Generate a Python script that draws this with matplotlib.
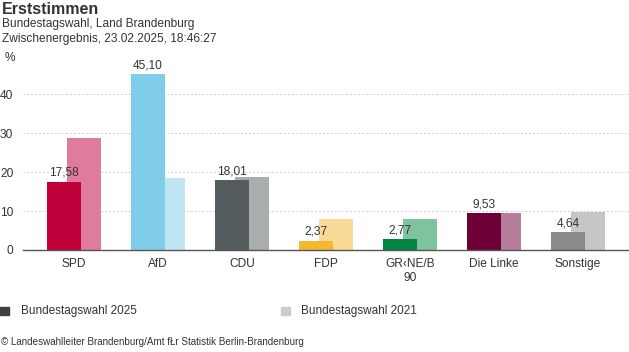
import numpy as np
import matplotlib.pyplot as plt

# Daten
parteien = ["SPD", "AfD", "CDU", "FDP", "GR\u2039NE/B\n90", "Die Linke", "Sonstige"]
werte_2025 = [17.58, 45.10, 18.01, 2.37, 2.77, 9.53, 4.64]
werte_2021 = [28.8, 18.5, 18.8, 8.0, 8.0, 9.6, 9.7]
farben_2025 = ["#c0003c", "#80cde9", "#555c5e", "#f3b92f", "#008542", "#6e0038", "#8a8a8a"]
farben_2021 = ["#df7b9b", "#c0e6f4", "#a9adae", "#f9da97", "#7fc2a0", "#b67e9b", "#c6c6c6"]

plt.rcParams["font.family"] = ["Liberation Sans", "DejaVu Sans"]

fig = plt.figure(figsize=(6.29, 3.52), dpi=100)
ax = fig.add_axes([23 / 629, 1 - 250 / 352, 1 - 23 / 629, (250 - 65) / 352])

x = np.arange(len(parteien))
breite = 0.405
versatz = 0.12

# 2021 hinten, 2025 vorne
ax.bar(x + versatz, werte_2021, width=breite, color=farben_2021, zorder=2)
ax.bar(x - versatz, werte_2025, width=breite, color=farben_2025, zorder=3)

for xi, v in zip(x, werte_2025):
    ax.annotate(f"{v:.2f}".replace(".", ","), (xi - versatz, v),
                xytext=(0, 2), textcoords="offset points",
                ha="center", va="bottom", fontsize=8.6, color="#333333", zorder=4)

ax.set_xlim(-0.607, len(parteien) - 1 + 0.607)
ax.set_ylim(0, 47.5)
ax.set_yticks([0, 10, 20, 30, 40])
ax.set_xticks(x)
ax.set_xticklabels(parteien, fontsize=8.6, color="#333333", linespacing=1.15)
ax.tick_params(axis="both", length=0, labelsize=8.6, colors="#333333")
ax.tick_params(axis="x", pad=6)
ax.tick_params(axis="y", pad=7)

ax.yaxis.grid(True, linestyle=(0, (2, 2)), color="#d0d0d0", linewidth=0.7, zorder=0)
ax.set_axisbelow(True)
for s in ["top", "right", "left"]:
    ax.spines[s].set_visible(False)
ax.spines["bottom"].set_color("#555555")
ax.spines["bottom"].set_linewidth(1.0)
ax.spines["bottom"].set_zorder(5)

# Titel
fig.text(2 / 629, 1 - 10 / 352, "Erststimmen", fontsize=11.5, fontweight="bold",
         color="#333333", va="center", ha="left")
fig.text(2 / 629, 1 - 24 / 352, "Bundestagswahl, Land Brandenburg", fontsize=8.6,
         color="#333333", va="center", ha="left")
fig.text(2 / 629, 1 - 39 / 352, "Zwischenergebnis, 23.02.2025, 18:46:27", fontsize=8.6,
         color="#333333", va="center", ha="left")
fig.text(5 / 629, 1 - 58 / 352, "%", fontsize=8.6, color="#333333", va="center", ha="left")

# Legende
fig.patches.append(plt.Rectangle((0, 1 - 315 / 352), 9 / 629, 8 / 352,
                                 transform=fig.transFigure, color="#404040"))
fig.text(21 / 629, 1 - 311 / 352, "Bundestagswahl 2025", fontsize=8.5,
         color="#333333", va="center", ha="left")
fig.patches.append(plt.Rectangle((281 / 629, 1 - 315 / 352), 9 / 629, 8 / 352,
                                 transform=fig.transFigure, color="#cccccc"))
fig.text(301 / 629, 1 - 311 / 352, "Bundestagswahl 2021", fontsize=8.5,
         color="#333333", va="center", ha="left")

fig.text(1 / 629, 1 - 342 / 352,
         "\u00a9 Landeswahlleiter Brandenburg/Amt f\u0141r Statistik Berlin-Brandenburg",
         fontsize=7.1, color="#333333", va="center", ha="left")

fig.savefig("out.png", dpi=100)
